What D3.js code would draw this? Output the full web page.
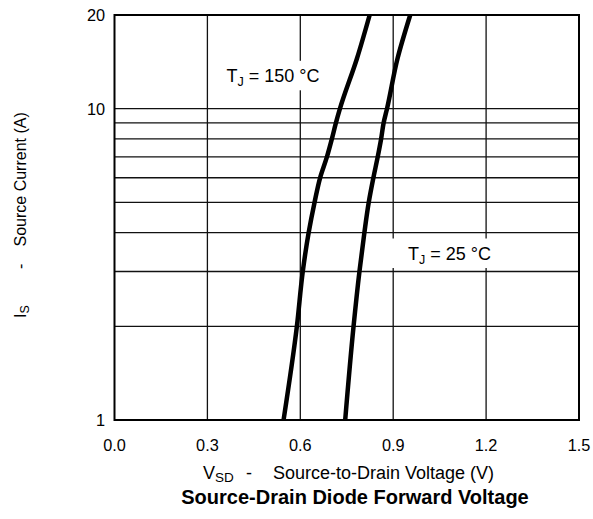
<!DOCTYPE html>
<html><head><meta charset="utf-8">
<script src="https://cdn.jsdelivr.net/npm/d3@7"></script>
<style>body{margin:0;background:#fff}text{font-family:"Liberation Sans",Arial,Helvetica,sans-serif;fill:#000;white-space:pre}</style>
</head><body><svg id="c" width="593" height="519"></svg>
<script>
const xTicks=[0.0,0.3,0.6,0.9,1.2,1.5];
const yTickLabels=[1,10,20];
const yGrid=[2,3,4,5,6,7,8,9,10];
const vsd150=[0.546,0.589,0.608,0.627,0.646,0.664,0.686,0.702,0.715,0.728,0.783,0.824];
const is150 =[1,2,3,4,5,6,7,8,9,10,14.5,20];
const vsd25=[0.745,0.772,0.791,0.807,0.821,0.836,0.85,0.861,0.869,0.88,0.914,0.955];
const is25 =[1,2,3,4,5,6,7,8,9,10,14.5,20];

const svg=d3.select("#c");
const L=114.5,R=579,T=15,B=420;
const x=d3.scaleLinear().domain([0,1.5]).range([L,R]);
const y=d3.scaleLog().domain([1,20]).range([B,T]);
const g=svg.append("g");
g.selectAll(".hg").data(yGrid).enter().append("line")
 .attr("x1",L).attr("x2",R).attr("y1",d=>y(d)).attr("y2",d=>y(d))
 .attr("stroke","#111").attr("stroke-width",1.3);
g.selectAll(".vg").data(xTicks.slice(1,-1)).enter().append("line")
 .attr("y1",T).attr("y2",B).attr("x1",d=>x(d)).attr("x2",d=>x(d))
 .attr("stroke","#111").attr("stroke-width",1.3);
const line=d3.line().x(d=>x(d[0])).y(d=>y(d[1])).curve(d3.curveMonotoneY);
[[vsd150,is150],[vsd25,is25]].forEach(([v,i])=>{
  g.append("path").datum(v.map((d,k)=>[d,i[k]])).attr("d",line)
   .attr("fill","none").attr("stroke","#000").attr("stroke-width",4.5);
});
g.append("rect").attr("x",L).attr("y",T).attr("width",R-L).attr("height",B-T)
 .attr("fill","none").attr("stroke","#000").attr("stroke-width",2);
function label(px,py,rest,padL){
  const t=svg.append("text").attr("x",px).attr("y",py).style("font-size","18px");
  t.append("tspan").text("T");
  t.append("tspan").text("J").attr("dy",4).style("font-size","12.5px");
  t.append("tspan").text(rest).attr("dy",-4);
  const b=t.node().getBBox();
  svg.insert("rect","text").attr("x",b.x-padL).attr("y",py-21.5).attr("width",b.width+padL+8).attr("height",29.5).attr("fill","#fff");
}
label(226.5,82.3," = 150 °C",14);
label(408,260," = 25 °C",18);
svg.selectAll(".xt").data(xTicks).enter().append("text")
 .attr("x",d=>x(d)).attr("y",450.5).attr("text-anchor","middle").style("font-size","16.3px")
 .text(d3.format(".1f"));
svg.selectAll(".yt").data(yTickLabels).enter().append("text")
 .attr("x",105).attr("y",d=>y(d)+6).attr("text-anchor","end").style("font-size","16.3px")
 .text(d=>d);
// x title
const xt=svg.append("g").style("font-size","18px");
xt.append("text").attr("x",203).attr("y",479).text("V")
  .append("tspan").text("SD").attr("dy",2.5).style("font-size","13.5px");
xt.append("text").attr("x",246).attr("y",479).text("-");
xt.append("text").attr("x",273).attr("y",479).text("Source-to-Drain Voltage (V)");
svg.append("text").attr("x",355).attr("y",504).attr("text-anchor","middle")
 .style("font-size","20px").style("font-weight","bold").text("Source-Drain Diode Forward Voltage");
// y title
const yt=svg.append("g").attr("transform","translate(26,0) rotate(-90)").style("font-size","16px");
yt.append("text").attr("x",-318).attr("y",0).text("I")
  .append("tspan").text("S").attr("dy",3).style("font-size","12.5px");
yt.append("text").attr("x",-269).attr("y",0).text("-");
yt.append("text").attr("x",-246.5).attr("y",0).text("Source Current (A)");
</script></body></html>
